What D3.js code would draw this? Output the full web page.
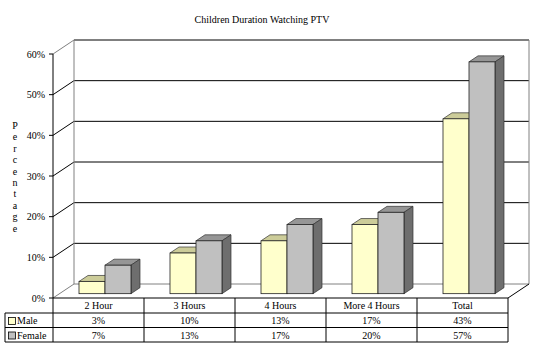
<!DOCTYPE html>
<html><head><meta charset="utf-8">
<script src="https://cdn.jsdelivr.net/npm/d3@7"></script>
<style>body{margin:0;background:#fff}svg{display:block}</style>
</head><body><svg id="c" width="534" height="352" font-family="'Liberation Serif', 'DejaVu Serif', 'Times New Roman', Times, serif" font-size="10"></svg>
<script>
const title = "Children Duration Watching PTV";
const yTitle = "Percentage";
const categories = ["2 Hour", "3 Hours", "4 Hours", "More 4 Hours", "Total"];
const seriesNames = ["Male", "Female"];
const maleValues = [3, 10, 13, 17, 43];
const femaleValues = [7, 13, 17, 20, 57];
const yTicks = [0, 10, 20, 30, 40, 50, 60];

const svg = d3.select("#c");
const L = 53, R = 508, B = 298, T = 54;
const DX = 21, DY = -14; // wall depth
const y = d3.scaleLinear().domain([0, 60]).range([B, T]);
const x = d3.scaleBand().domain(categories).range([L, R]);
const barW = 26;
const sub = d3.scaleBand().domain(seriesNames).range([0, barW * 2]);
const fOff = 6.5, fOffY = -6.5 * 14 / 21; // bar front depth shift
const bDX = 9, bDY = -6; // bar depth

const series = [
  {name: "Male", values: maleValues, front: "#FFFFCC", top: "#CCCC99", side: "#999966"},
  {name: "Female", values: femaleValues, front: "#C0C0C0", top: "#969696", side: "#6E6E6E"}
];

// title
svg.append("text").attr("x", 262).attr("y", 23).attr("text-anchor", "middle").text(title);

// walls
const g = svg.append("g");
yTicks.forEach(t => {
  const yy = y(t);
  const col = (t === 0 || t === 60) ? "#808080" : "#000";
  g.append("line").attr("x1", L).attr("y1", yy).attr("x2", L + DX).attr("y2", yy + DY)
    .attr("stroke", col).attr("stroke-width", 1);
  g.append("line").attr("x1", L + DX).attr("y1", yy + DY).attr("x2", R + DX).attr("y2", yy + DY)
    .attr("stroke", t === 0 ? "#808080" : "#000").attr("stroke-width", 1);
});
g.append("line").attr("x1", L + DX).attr("y1", y(60) + DY).attr("x2", L + DX).attr("y2", y(0) + DY).attr("stroke", "#808080");
g.append("line").attr("x1", R + DX).attr("y1", y(60) + DY).attr("x2", R + DX).attr("y2", y(0) + DY).attr("stroke", "#808080");
g.append("line").attr("x1", R).attr("y1", B).attr("x2", R + DX).attr("y2", B + DY).attr("stroke", "#000");

// y axis
g.append("line").attr("x1", L).attr("y1", T).attr("x2", L).attr("y2", B).attr("stroke", "#000");
yTicks.forEach(t => {
  g.append("line").attr("x1", L - 4).attr("y1", y(t)).attr("x2", L).attr("y2", y(t)).attr("stroke", "#000");
  g.append("text").attr("x", 45).attr("y", y(t) + 3.5).attr("text-anchor", "end").text(t + "%");
});

// y title stacked letters
yTitle.split("").forEach((ch, i) => {
  svg.append("text").attr("x", 15).attr("y", 129 + i * 11.4).attr("text-anchor", "middle").text(ch);
});

// bars
const bars = svg.append("g");
categories.forEach((c, ci) => {
  const gx = x(c) + x.bandwidth() / 2 - barW + fOff;
  series.forEach(s => {
    const v = s.values[ci];
    const x0 = gx + sub(s.name), x1 = x0 + barW;
    const yb = y(0) + fOffY, yt = y(v) + fOffY;
    bars.append("polygon").attr("points", [[x0, yt], [x1, yt], [x1 + bDX, yt + bDY], [x0 + bDX, yt + bDY]].join(" "))
      .attr("fill", s.top).attr("stroke", "#333").attr("stroke-width", 0.7);
    bars.append("polygon").attr("points", [[x1, yt], [x1 + bDX, yt + bDY], [x1 + bDX, yb + bDY], [x1, yb]].join(" "))
      .attr("fill", s.side).attr("stroke", "#333").attr("stroke-width", 0.7);
    bars.append("rect").attr("x", x0).attr("y", yt).attr("width", barW).attr("height", yb - yt)
      .attr("fill", s.front).attr("stroke", "#222").attr("stroke-width", 0.8);
  });
});

// data table
const tb = svg.append("g");
const rowY = [298, 313, 327.5, 342];
const LL = 5;
tb.append("line").attr("x1", L).attr("y1", rowY[0]).attr("x2", R).attr("y2", rowY[0]).attr("stroke", "#000");
[1, 2, 3].forEach(i => tb.append("line").attr("x1", LL).attr("y1", rowY[i]).attr("x2", R).attr("y2", rowY[i]).attr("stroke", "#000"));
tb.append("line").attr("x1", LL).attr("y1", rowY[1]).attr("x2", LL).attr("y2", rowY[3]).attr("stroke", "#000");
const colEdges = [L].concat(categories.map(c => x(c) + x.bandwidth()));
colEdges.forEach(cx => tb.append("line").attr("x1", cx).attr("y1", rowY[0]).attr("x2", cx).attr("y2", rowY[3]).attr("stroke", "#000"));
categories.forEach((c, ci) => {
  const cx = x(c) + x.bandwidth() / 2;
  tb.append("text").attr("x", cx).attr("y", rowY[0] + 11).attr("text-anchor", "middle").text(c);
  series.forEach((s, si) => {
    tb.append("text").attr("x", cx).attr("y", rowY[si + 1] + 11).attr("text-anchor", "middle").text(s.values[ci] + "%");
  });
});
series.forEach((s, si) => {
  const ry = rowY[si + 1];
  tb.append("rect").attr("x", 8.5).attr("y", ry + 4.5).attr("width", 7).attr("height", 7)
    .attr("fill", s.front).attr("stroke", "#000").attr("stroke-width", 0.8);
  tb.append("text").attr("x", 17).attr("y", ry + 11).text(s.name);
});
</script></body></html>
